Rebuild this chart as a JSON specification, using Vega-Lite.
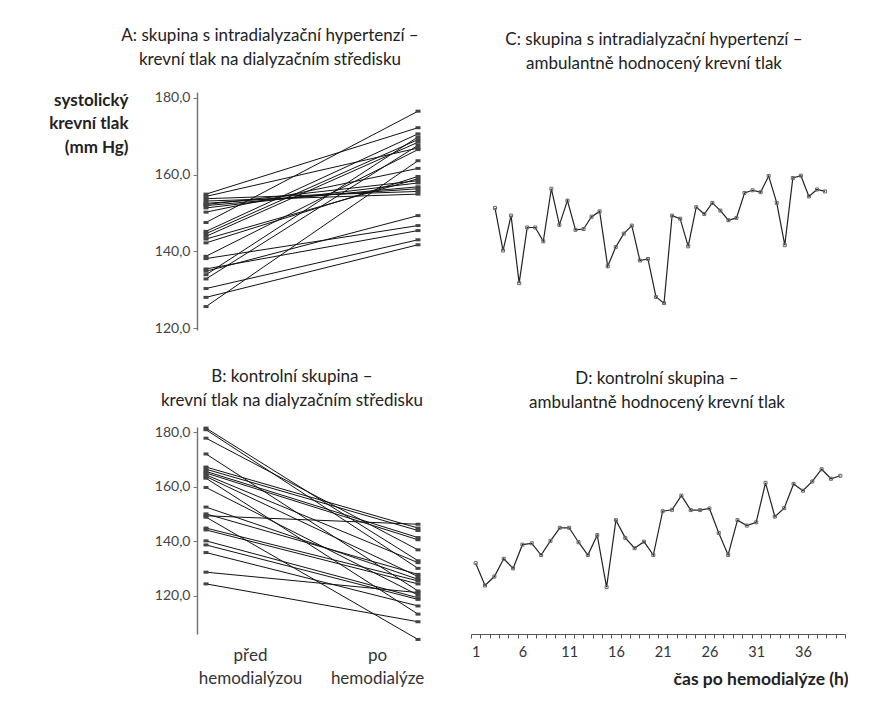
{
  "$schema": "https://vega.github.io/schema/vega-lite/v6.json",
  "background": "white",
  "padding": {"top": 26, "left": 48, "right": 0, "bottom": 0},
  "config": {
    "view": {"stroke": null},
    "font": "Lato",
    "axis": {"labelFont": "Lato", "titleFont": "Lato"},
    "title": {"font": "Lato", "fontSize": 17, "fontWeight": "normal", "color": "#222", "lineHeight": 24, "anchor": "middle"}
  },
  "datasets": {
    "A": [
      {"id": 1, "phase": 0, "sbp": 154.9}, {"id": 1, "phase": 1, "sbp": 172.2},
      {"id": 2, "phase": 0, "sbp": 154.3}, {"id": 2, "phase": 1, "sbp": 166.9},
      {"id": 3, "phase": 0, "sbp": 153.7}, {"id": 3, "phase": 1, "sbp": 155.6},
      {"id": 4, "phase": 0, "sbp": 153.1}, {"id": 4, "phase": 1, "sbp": 154.9},
      {"id": 5, "phase": 0, "sbp": 152.5}, {"id": 5, "phase": 1, "sbp": 156.3},
      {"id": 6, "phase": 0, "sbp": 152.2}, {"id": 6, "phase": 1, "sbp": 158.4},
      {"id": 7, "phase": 0, "sbp": 151.9}, {"id": 7, "phase": 1, "sbp": 156.8},
      {"id": 8, "phase": 0, "sbp": 151.3}, {"id": 8, "phase": 1, "sbp": 157.8},
      {"id": 9, "phase": 0, "sbp": 150.2}, {"id": 9, "phase": 1, "sbp": 161.6},
      {"id": 10, "phase": 0, "sbp": 147.5}, {"id": 10, "phase": 1, "sbp": 176.5},
      {"id": 11, "phase": 0, "sbp": 145.2}, {"id": 11, "phase": 1, "sbp": 170.6},
      {"id": 12, "phase": 0, "sbp": 144.6}, {"id": 12, "phase": 1, "sbp": 169.1},
      {"id": 13, "phase": 0, "sbp": 143.9}, {"id": 13, "phase": 1, "sbp": 168.4},
      {"id": 14, "phase": 0, "sbp": 143.2}, {"id": 14, "phase": 1, "sbp": 158.9},
      {"id": 15, "phase": 0, "sbp": 142.2}, {"id": 15, "phase": 1, "sbp": 159.5},
      {"id": 16, "phase": 0, "sbp": 138.7}, {"id": 16, "phase": 1, "sbp": 166.5},
      {"id": 17, "phase": 0, "sbp": 138.1}, {"id": 17, "phase": 1, "sbp": 146.7},
      {"id": 18, "phase": 0, "sbp": 135.4}, {"id": 18, "phase": 1, "sbp": 145.4},
      {"id": 19, "phase": 0, "sbp": 134.8}, {"id": 19, "phase": 1, "sbp": 149.3},
      {"id": 20, "phase": 0, "sbp": 133.9}, {"id": 20, "phase": 1, "sbp": 169.8},
      {"id": 21, "phase": 0, "sbp": 132.8}, {"id": 21, "phase": 1, "sbp": 167.6},
      {"id": 22, "phase": 0, "sbp": 130.3}, {"id": 22, "phase": 1, "sbp": 143.0},
      {"id": 23, "phase": 0, "sbp": 128.0}, {"id": 23, "phase": 1, "sbp": 141.7},
      {"id": 24, "phase": 0, "sbp": 125.6}, {"id": 24, "phase": 1, "sbp": 163.6}
    ],
    "B": [
      {"id": 1, "phase": 0, "sbp": 181.6}, {"id": 1, "phase": 1, "sbp": 132.9},
      {"id": 2, "phase": 0, "sbp": 181.0}, {"id": 2, "phase": 1, "sbp": 130.1},
      {"id": 3, "phase": 0, "sbp": 177.9}, {"id": 3, "phase": 1, "sbp": 136.9},
      {"id": 4, "phase": 0, "sbp": 172.1}, {"id": 4, "phase": 1, "sbp": 121.8},
      {"id": 5, "phase": 0, "sbp": 167.3}, {"id": 5, "phase": 1, "sbp": 144.9},
      {"id": 6, "phase": 0, "sbp": 166.5}, {"id": 6, "phase": 1, "sbp": 144.0},
      {"id": 7, "phase": 0, "sbp": 165.7}, {"id": 7, "phase": 1, "sbp": 141.4},
      {"id": 8, "phase": 0, "sbp": 165.1}, {"id": 8, "phase": 1, "sbp": 140.6},
      {"id": 9, "phase": 0, "sbp": 164.4}, {"id": 9, "phase": 1, "sbp": 132.2},
      {"id": 10, "phase": 0, "sbp": 163.8}, {"id": 10, "phase": 1, "sbp": 127.1},
      {"id": 11, "phase": 0, "sbp": 163.2}, {"id": 11, "phase": 1, "sbp": 113.3},
      {"id": 12, "phase": 0, "sbp": 159.8}, {"id": 12, "phase": 1, "sbp": 120.3},
      {"id": 13, "phase": 0, "sbp": 152.6}, {"id": 13, "phase": 1, "sbp": 126.1},
      {"id": 14, "phase": 0, "sbp": 150.1}, {"id": 14, "phase": 1, "sbp": 127.9},
      {"id": 15, "phase": 0, "sbp": 149.4}, {"id": 15, "phase": 1, "sbp": 146.3},
      {"id": 16, "phase": 0, "sbp": 148.9}, {"id": 16, "phase": 1, "sbp": 104.0},
      {"id": 17, "phase": 0, "sbp": 144.9}, {"id": 17, "phase": 1, "sbp": 125.5},
      {"id": 18, "phase": 0, "sbp": 144.2}, {"id": 18, "phase": 1, "sbp": 124.4},
      {"id": 19, "phase": 0, "sbp": 140.2}, {"id": 19, "phase": 1, "sbp": 119.3},
      {"id": 20, "phase": 0, "sbp": 138.7}, {"id": 20, "phase": 1, "sbp": 118.7},
      {"id": 21, "phase": 0, "sbp": 135.9}, {"id": 21, "phase": 1, "sbp": 116.3},
      {"id": 22, "phase": 0, "sbp": 128.7}, {"id": 22, "phase": 1, "sbp": 121.2},
      {"id": 23, "phase": 0, "sbp": 124.4}, {"id": 23, "phase": 1, "sbp": 110.5}
    ],
    "C": [
      {"t": 1, "sbp": 151.3}, {"t": 2, "sbp": 140.2}, {"t": 3, "sbp": 149.3}, {"t": 4, "sbp": 131.7},
      {"t": 5, "sbp": 146.2}, {"t": 6, "sbp": 146.2}, {"t": 7, "sbp": 142.6}, {"t": 8, "sbp": 156.3},
      {"t": 9, "sbp": 146.9}, {"t": 10, "sbp": 153.2}, {"t": 11, "sbp": 145.6}, {"t": 12, "sbp": 145.8},
      {"t": 13, "sbp": 149.0}, {"t": 14, "sbp": 150.4}, {"t": 15, "sbp": 136.1}, {"t": 16, "sbp": 141.1},
      {"t": 17, "sbp": 144.6}, {"t": 18, "sbp": 146.7}, {"t": 19, "sbp": 137.6}, {"t": 20, "sbp": 138.0},
      {"t": 21, "sbp": 128.1}, {"t": 22, "sbp": 126.5}, {"t": 23, "sbp": 149.3}, {"t": 24, "sbp": 148.5},
      {"t": 25, "sbp": 141.3}, {"t": 26, "sbp": 151.5}, {"t": 27, "sbp": 149.7}, {"t": 28, "sbp": 152.6},
      {"t": 29, "sbp": 150.6}, {"t": 30, "sbp": 148.1}, {"t": 31, "sbp": 148.7}, {"t": 32, "sbp": 155.2},
      {"t": 33, "sbp": 155.9}, {"t": 34, "sbp": 155.4}, {"t": 35, "sbp": 159.6}, {"t": 36, "sbp": 152.6},
      {"t": 37, "sbp": 141.6}, {"t": 38, "sbp": 159.1}, {"t": 39, "sbp": 159.7}, {"t": 40, "sbp": 154.3},
      {"t": 41, "sbp": 156.1}, {"t": 42, "sbp": 155.6}
    ],
    "D": [
      {"h": 1, "sbp": 132.0}, {"h": 2, "sbp": 123.8}, {"h": 3, "sbp": 127.1}, {"h": 4, "sbp": 133.6},
      {"h": 5, "sbp": 130.1}, {"h": 6, "sbp": 138.8}, {"h": 7, "sbp": 139.3}, {"h": 8, "sbp": 135.0},
      {"h": 9, "sbp": 140.2}, {"h": 10, "sbp": 145.0}, {"h": 11, "sbp": 145.0}, {"h": 12, "sbp": 139.7},
      {"h": 13, "sbp": 135.0}, {"h": 14, "sbp": 142.3}, {"h": 15, "sbp": 123.2}, {"h": 16, "sbp": 147.8},
      {"h": 17, "sbp": 141.3}, {"h": 18, "sbp": 137.5}, {"h": 19, "sbp": 139.9}, {"h": 20, "sbp": 135.0},
      {"h": 21, "sbp": 151.1}, {"h": 22, "sbp": 151.6}, {"h": 23, "sbp": 156.8}, {"h": 24, "sbp": 151.5},
      {"h": 25, "sbp": 151.5}, {"h": 26, "sbp": 152.1}, {"h": 27, "sbp": 143.1}, {"h": 28, "sbp": 135.0},
      {"h": 29, "sbp": 147.8}, {"h": 30, "sbp": 145.8}, {"h": 31, "sbp": 147.0}, {"h": 32, "sbp": 161.5},
      {"h": 33, "sbp": 149.1}, {"h": 34, "sbp": 152.2}, {"h": 35, "sbp": 161.1}, {"h": 36, "sbp": 158.6},
      {"h": 37, "sbp": 162.0}, {"h": 38, "sbp": 166.5}, {"h": 39, "sbp": 163.0}, {"h": 40, "sbp": 164.1}
    ]
  },
  "concat": [
    {
      "width": 230, "height": 238,
      "title": {"text": ["A: skupina s intradialyzační hypertenzí –", "krevní tlak na dialyzačním středisku"], "dx": -42, "offset": 22},
      "data": {"name": "A"},
      "encoding": {
        "x": {"field": "phase", "type": "quantitative", "scale": {"domain": [-0.0425, 1.0425], "nice": false, "zero": false}, "axis": null},
        "y": {"field": "sbp", "type": "quantitative", "scale": {"domain": [119.5, 181.5], "nice": false, "zero": false},
          "axis": {"values": [120, 140, 160, 180], "labelExpr": "replace(format(datum.value,'.1f'),'.',',')", "grid": false,
            "domainColor": "#777", "domainWidth": 1.5, "tickColor": "#777", "tickSize": 4, "labelFontSize": 14, "labelColor": "#444", "labelPadding": 3,
            "title": ["systolický", "krevní tlak", "(mm Hg)"], "titleAngle": 0, "titleAlign": "right", "titleBaseline": "top",
            "titleX": -69, "titleY": 0, "titleFontSize": 17, "titleFontWeight": "bold", "titleColor": "#222", "titleLineHeight": 23.5}}
      },
      "layer": [
        {"mark": {"type": "line", "color": "#111", "strokeWidth": 1}, "encoding": {"detail": {"field": "id", "type": "nominal"}}},
        {"mark": {"type": "point", "shape": "M-1,-0.6H1V0.6H-1Z", "filled": true, "size": 25, "color": "#444", "opacity": 1}}
      ]
    },
    {
      "width": 374, "height": 238,
      "title": {"text": ["C: skupina s intradialyzační hypertenzí –", "ambulantně hodnocený krevní tlak"], "dx": -4, "offset": 19},
      "data": {"name": "C"},
      "encoding": {
        "x": {"field": "t", "type": "quantitative", "scale": {"domain": [-1.98, 44.48], "nice": false, "zero": false}, "axis": null},
        "y": {"field": "sbp", "type": "quantitative", "scale": {"domain": [119.5, 181.5], "nice": false, "zero": false}, "axis": null}
      },
      "layer": [
        {"mark": {"type": "line", "color": "#222", "strokeWidth": 1.2}},
        {"mark": {"type": "point", "shape": "square", "filled": false, "size": 9, "strokeWidth": 1, "color": "#666", "opacity": 1}}
      ]
    },
    {
      "width": 230, "height": 207,
      "title": {"text": ["B: kontrolní skupina –", "krevní tlak na dialyzačním středisku"], "dx": -20, "offset": 15},
      "data": {"name": "B"},
      "encoding": {
        "x": {"field": "phase", "type": "quantitative", "scale": {"domain": [-0.0425, 1.0425], "nice": false, "zero": false},
          "axis": {"values": [0.2075, 0.807], "labelExpr": "datum.value < 0.5 ? ['před', 'hemodialýzou'] : ['po', 'hemodialýze']",
            "domain": false, "ticks": false, "grid": false, "labelFontSize": 17, "labelColor": "#333", "labelPadding": 13, "labelLineHeight": 23, "title": null}},
        "y": {"field": "sbp", "type": "quantitative", "scale": {"domain": [106, 182], "nice": false, "zero": false},
          "axis": {"values": [120, 140, 160, 180], "labelExpr": "replace(format(datum.value,'.1f'),'.',',')", "grid": false,
            "domainColor": "#777", "domainWidth": 1.5, "tickColor": "#777", "tickSize": 4, "labelFontSize": 14, "labelColor": "#444", "labelPadding": 3, "title": null}}
      },
      "layer": [
        {"mark": {"type": "line", "color": "#111", "strokeWidth": 1}, "encoding": {"detail": {"field": "id", "type": "nominal"}}},
        {"mark": {"type": "point", "shape": "M-1,-0.6H1V0.6H-1Z", "filled": true, "size": 25, "color": "#444", "opacity": 1}}
      ]
    },
    {
      "width": 374, "height": 207,
      "title": {"text": ["D: kontrolní skupina –", "ambulantně hodnocený krevní tlak"], "dx": -1, "offset": 15},
      "data": {"name": "D"},
      "encoding": {
        "x": {"field": "h", "type": "quantitative", "scale": {"domain": [0.5, 40.5], "nice": false, "zero": false}},
        "y": {"field": "sbp", "type": "quantitative", "scale": {"domain": [106, 182], "nice": false, "zero": false}, "axis": null}
      },
      "layer": [
        {"mark": {"type": "line", "color": "#222", "strokeWidth": 1.2},
          "encoding": {"x": {"field": "h", "type": "quantitative",
            "axis": {"orient": "bottom", "values": [1, 6, 11, 16, 21, 26, 31, 36], "ticks": false, "domain": false, "grid": false, "labelFontSize": 14.5, "labelColor": "#333", "labelPadding": 11,
              "title": "čas po hemodialýze (h)", "titleFontSize": 17.5, "titleFontWeight": "bold", "titleColor": "#222", "titleAnchor": "end", "titleAlign": "right", "titleX": 377, "titlePadding": 12}}}},
        {"mark": {"type": "point", "shape": "square", "filled": false, "size": 9, "strokeWidth": 1, "color": "#666", "opacity": 1},
          "encoding": {"x": {"field": "h", "type": "quantitative",
            "axis": {"orient": "bottom", "values": [0.5, 1.5, 2.5, 3.5, 4.5, 5.5, 6.5, 7.5, 8.5, 9.5, 10.5, 11.5, 12.5, 13.5, 14.5, 15.5, 16.5, 17.5, 18.5, 19.5, 20.5, 21.5, 22.5, 23.5, 24.5, 25.5, 26.5, 27.5, 28.5, 29.5, 30.5, 31.5, 32.5, 33.5, 34.5, 35.5, 36.5, 37.5, 38.5, 39.5, 40.5],
              "labels": false, "grid": false, "domainColor": "#555", "domainWidth": 1.2, "tickColor": "#555", "tickSize": 4, "title": null}}}}
      ],
      "resolve": {"axis": {"x": "independent"}}
    }
  ],
  "columns": 2,
  "bounds": "flush",
  "spacing": {"row": 97, "column": 44}
}
